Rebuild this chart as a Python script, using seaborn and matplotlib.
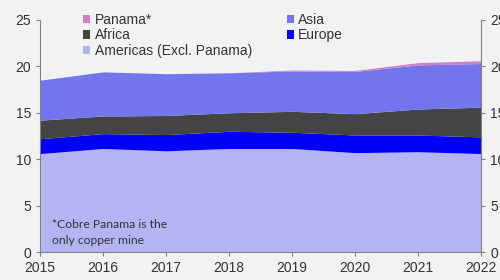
import matplotlib
matplotlib.use('Agg')
import matplotlib.pyplot as plt
from matplotlib.patches import Patch
import numpy as np
import seaborn as sns

years = [2015, 2016, 2017, 2018, 2019, 2020, 2021, 2022]
americas = [10.6, 11.15, 10.9, 11.15, 11.15, 10.7, 10.8, 10.6]
europe = [1.6, 1.6, 1.75, 1.85, 1.75, 1.9, 1.8, 1.8]
africa = [2.0, 1.9, 2.05, 2.0, 2.25, 2.3, 2.8, 3.2]
asia = [4.3, 4.75, 4.5, 4.3, 4.35, 4.55, 4.75, 4.7]
panama = [0, 0, 0, 0, 0.1, 0.1, 0.25, 0.3]

labels = ['Americas (Excl. Panama)', 'Europe', 'Africa', 'Asia', 'Panama*']
colors = ['#b4b4f4', '#0000f8', '#444444', '#7474ee', '#cc80c8']

sns.set_style('ticks')
bg = '#f2f2f2'
plt.rcParams['font.family'] = ['Liberation Sans', 'DejaVu Sans']

fig = plt.figure(figsize=(5, 2.8), dpi=100, facecolor=bg)
ax = fig.add_axes([0.08, 0.1, 0.882, 0.829], facecolor=bg)

ax.stackplot(years, americas, europe, africa, asia, panama,
             colors=colors, linewidth=0)

ax.set_xlim(2015, 2022)
ax.set_ylim(0, 25)
ax.set_xticks(years)
ax.set_yticks(range(0, 26, 5))
for s in ['top', 'right']:
    ax.spines[s].set_visible(False)
for s in ['left', 'bottom']:
    ax.spines[s].set_color('#808080')
ax.tick_params(axis='both', colors='#808080', labelcolor='#333333',
               labelsize=10, length=3, width=0.8)

ax2 = ax.twinx()
ax2.set_ylim(0, 25)
ax2.set_yticks(range(0, 26, 5))
for s in ['top', 'left', 'bottom']:
    ax2.spines[s].set_visible(False)
ax2.spines['right'].set_color('#808080')
ax2.tick_params(axis='y', colors='#808080', labelcolor='#333333',
                labelsize=10, length=3, width=0.8)

# legend: column 1 Panama/Africa/Americas, column 2 Asia/Europe
order = [4, 2, 0, 3, 1]
handles = [Patch(facecolor=colors[i], edgecolor='none') for i in order]
ax.legend(handles, [labels[i] for i in order], ncol=2, frameon=False,
          loc='upper left', bbox_to_anchor=(0.146, 0.988), bbox_transform=fig.transFigure,
          fontsize=10, handlelength=0.55, handleheight=0.55, handletextpad=0.3,
          labelspacing=0.1, columnspacing=2.5, borderpad=0.2, labelcolor='#333333')

ax.text(2015.19, 2.1, '*Cobre Panama is the\nonly copper mine', fontsize=8.7,
        family=['Lato', 'DejaVu Sans'], color='#333333', va='center', linespacing=1.45)

fig.savefig('out.png', dpi=100, facecolor=bg)
